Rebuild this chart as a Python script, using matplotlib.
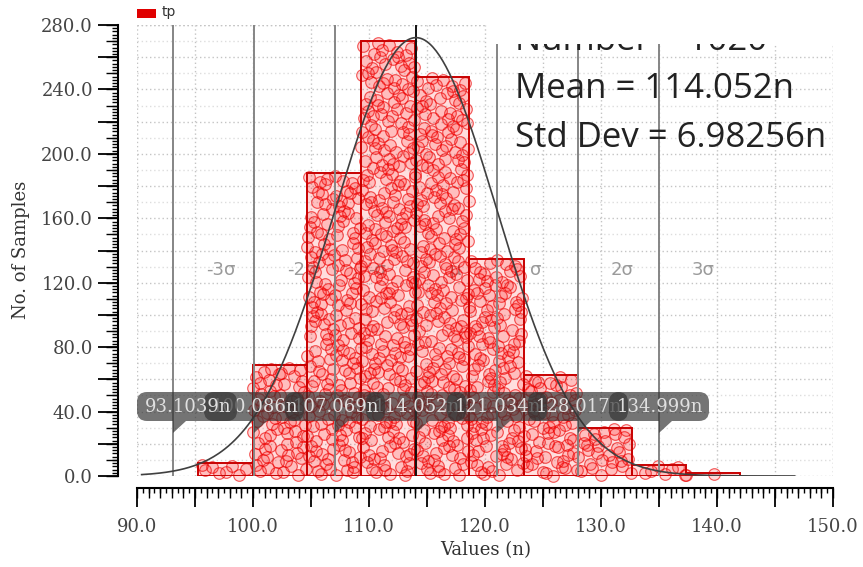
import numpy as np
import matplotlib.pyplot as plt
from matplotlib.patches import Rectangle, FancyBboxPatch, Polygon
from matplotlib.ticker import MultipleLocator, FuncFormatter, NullFormatter
from matplotlib.transforms import Bbox, TransformedBbox

# histogram of tp (ns), 10 bins
bin_lo = 95.3
bin_hi = 142.0
counts = [8, 69, 188, 270, 248, 135, 63, 30, 7, 2]

mean = 114.052
std_dev = 6.98256
n_text = "Number = 1020"

# mu +/- k*sigma markers and their labels
sigma_marks = [93.1039, 100.086, 107.069, 114.052, 121.034, 128.017, 134.999]
sigma_names = ['-3σ', '-2σ', '-σ', 'μ', 'σ', '2σ', '3σ']
curve_range = (90.4, 146.7)


def halton(i, base):
    f, r = 1.0, 0.0
    while i > 0:
        f /= base
        r += f * (i % base)
        i //= base
    return r


PT = 0.72  # points per pixel at 100 dpi

fig = plt.figure(figsize=(8.63, 5.67), dpi=100)
W, H = 863, 567
ax = fig.add_axes([137 / W, 91 / H, 696 / W, 451 / H])
ax.set_xlim(90, 150)
ax.set_ylim(0, 280)
px_x = 696 / 60.0    # pixels per ns
px_y = 451 / 280.0   # pixels per sample

edges = np.linspace(bin_lo, bin_hi, len(counts) + 1)
width = edges[1] - edges[0]

# bars
ax.bar(edges[:-1], counts, width=width, align='edge', color=(1, 0, 0, 0.13),
       edgecolor='none', zorder=2)
ax.bar(edges[:-1], counts, width=width, align='edge', fill=False,
       edgecolor='#c80000', linewidth=1.4, zorder=3.5)

# one circle per sample, spread over its bar
px, py = [], []
for i, c in enumerate(counts):
    for j in range(c):
        px.append(edges[i] + halton(j + 1 + 7 * i, 2) * width)
        py.append(halton(j + 1 + 7 * i, 3) * c)
ax.scatter(px, py, s=70, facecolor=(1, 0, 0, 0.14), edgecolor=(0.93, 0, 0, 0.62),
           linewidth=0.85, zorder=3, clip_on=False)

# sigma lines and names
for v, name in zip(sigma_marks, sigma_names):
    col = '#111111' if name == 'μ' else '#858585'
    ax.plot([v, v], [0, 280], color=col, linewidth=1.4, zorder=4)
    ax.text(v + 33 / px_x, 128, name, color='#9a9a9a', fontsize=13,
            ha='left', va='center', zorder=1.5)

# fitted normal curve
xc = np.linspace(curve_range[0], curve_range[1], 400)
yc = sum(counts) * width * np.exp(-0.5 * ((xc - mean) / std_dev) ** 2) / (std_dev * np.sqrt(2 * np.pi))
ax.plot(xc, yc, color='#404040', linewidth=1.2, zorder=5)

# value tooltips on the sigma lines, outer ones on top
box_w = 100 / px_x
box_h = 29 / px_y
box_y0 = (476 - 421) / px_y
tip_y = (476 - 433) / px_y
for k, v in enumerate(sigma_marks):
    x0 = max(90.0, v - box_w / 2)
    z = 10 + abs(k - 3) * 0.1
    ax.add_patch(FancyBboxPatch((x0, box_y0), box_w, box_h,
                                boxstyle='round,pad=0,rounding_size=%f' % (10 / px_x),
                                mutation_aspect=px_x / px_y,
                                facecolor='#333333', alpha=0.68, edgecolor='none',
                                zorder=z, clip_on=False))
    ax.add_patch(Polygon([(v, box_y0), (v + 13 / px_x, box_y0), (v, tip_y)],
                         closed=True, facecolor='#333333', alpha=0.68,
                         edgecolor='none', zorder=z))
    ax.text(x0 + 8 / px_x, box_y0 + box_h / 2, '%gn' % v, family='DejaVu Serif',
            fontsize=13, color='#e0e0e0', ha='left', va='center', zorder=z + 0.05)

# grid
ax.grid(True, which='major', color='#c4c4c4', linestyle=(0, (1, 2)), linewidth=1.0)
ax.set_axisbelow(True)
for v in np.arange(10, 280, 20):
    ax.axhline(v, color='#dddddd', linestyle=(0, (1, 2)), linewidth=1.0, zorder=0.5)
ax.axvline(150, color='#c4c4c4', linestyle=(0, (1, 2)), linewidth=1.0, zorder=0.5)
ax.axhline(280, color='#c4c4c4', linestyle=(0, (1, 2)), linewidth=1.0, zorder=0.5)

# axes and ticks
for s in ['top', 'right']:
    ax.spines[s].set_visible(False)
ax.spines['left'].set_position(('outward', 19 * PT))
ax.spines['bottom'].set_position(('outward', 12 * PT))
ax.spines['left'].set_linewidth(1.5)
ax.spines['bottom'].set_linewidth(1.5)

ax.xaxis.set_major_locator(MultipleLocator(5))
ax.xaxis.set_minor_locator(MultipleLocator(0.5))
ax.yaxis.set_major_locator(MultipleLocator(20))
ax.yaxis.set_minor_locator(MultipleLocator(2))
ax.xaxis.set_major_formatter(FuncFormatter(lambda v, p: '%.1f' % v if abs(v % 10) < 1e-6 else ''))
ax.yaxis.set_major_formatter(FuncFormatter(lambda v, p: '%.1f' % v if abs(v % 40) < 1e-6 else ''))
ax.tick_params(axis='x', which='major', length=19 * PT, width=1.3, pad=11 * PT,
               labelsize=13, labelcolor='#444444')
ax.tick_params(axis='x', which='minor', length=5 * PT, width=1.0)
ax.tick_params(axis='y', which='major', length=20 * PT, width=1.3, pad=5 * PT,
               labelsize=13, labelcolor='#444444')
ax.tick_params(axis='y', which='minor', length=6 * PT, width=1.0)
for lab in ax.get_xticklabels() + ax.get_yticklabels():
    lab.set_family('DejaVu Serif')

secx = ax.secondary_xaxis(-12 / 451)
secx.xaxis.set_major_locator(MultipleLocator(1))
secx.xaxis.set_major_formatter(NullFormatter())
secx.tick_params(length=10 * PT, width=1.0)
secx.spines['bottom'].set_visible(False)
secy = ax.secondary_yaxis(-19 / 696)
secy.yaxis.set_major_locator(MultipleLocator(10))
secy.yaxis.set_major_formatter(NullFormatter())
secy.tick_params(length=12 * PT, width=1.0)
secy.spines['left'].set_visible(False)

fig.text(486 / W, 1 - 550 / H, 'Values (n)', family='DejaVu Serif', fontsize=13,
         color='#333333', ha='center', va='center')
fig.text(21 / W, 1 - 250 / H, 'No. of Samples', family='DejaVu Serif', fontsize=13,
         color='#333333', ha='center', va='center', rotation=90)

# legend
fig.add_artist(Rectangle((137 / W, 1 - 18 / H), 19 / W, 9 / H, transform=fig.transFigure,
                         facecolor='#e00000', edgecolor='none'))
fig.text(162 / W, 1 - 12 / H, 'tp', fontsize=10, color='#333333', ha='left', va='center')

# statistics box, its first line cut off by the panel edge
stat_font = dict(family='Open Sans', fontsize=25, color='#222222', ha='left', va='baseline')
t_num = fig.text(515 / W, 1 - 50 / H, n_text, zorder=5, **stat_font)
t_num.set_clip_box(TransformedBbox(Bbox.from_extents(0, 0, 1, 1 - 43 / H), fig.transFigure))
t_num.set_clip_on(True)
fig.text(515 / W, 1 - 98 / H, 'Mean = %gn' % mean, zorder=5, **stat_font)
fig.text(515 / W, 1 - 147 / H, 'Std Dev = %gn' % std_dev, zorder=5, **stat_font)
fig.add_artist(Rectangle((487 / W, 1 - 44 / H), 376 / W, 44 / H, transform=fig.transFigure,
                         facecolor='white', edgecolor='none', zorder=6))

fig.savefig('out.png', dpi=100)
